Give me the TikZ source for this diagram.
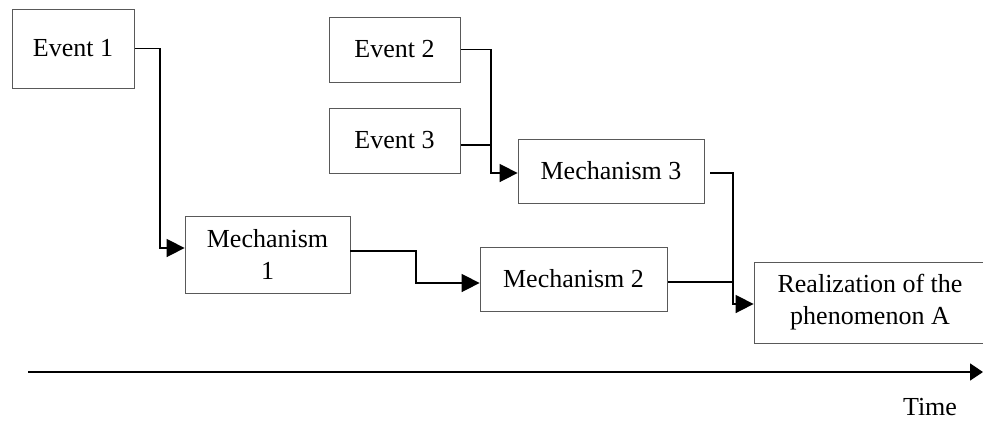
\documentclass[tikz,border=0pt]{standalone}
\usepackage{fontspec}
\setmainfont{Liberation Serif}
\usetikzlibrary{arrows.meta}
\begin{document}
\begin{tikzpicture}[x=1pt,y=-1pt,
  box/.style={draw=black!65,line width=0.8pt,rectangle,inner sep=0pt,align=center,
    font=\fontsize{26}{32}\selectfont},
  conn/.style={line width=1.6pt,black},
  tip/.style={-{Triangle[length=18pt,width=18pt]}}]
\useasboundingbox (0,0) rectangle (983,421);
\node[box,minimum width=122pt,minimum height=79pt] (e1) at (73,48.5) {Event 1};
\node[box,minimum width=131pt,minimum height=65pt] (e2) at (394.5,49.5) {Event 2};
\node[box,minimum width=131pt,minimum height=65pt] (e3) at (394.5,140.5) {Event 3};
\node[box,minimum width=186pt,minimum height=64pt] (m3) at (611,171) {Mechanism 3};
\node[box,minimum width=165pt,minimum height=77pt] (m1) at (267.5,254.5) {Mechanism\\1};
\node[box,minimum width=187pt,minimum height=64pt] (m2) at (573.5,279) {Mechanism 2};
\node[box,minimum width=232pt,minimum height=81pt] (r) at (870,302.5) {Realization of the\\phenomenon A};
\node[font=\fontsize{26}{32}\selectfont,inner sep=0pt] (time) at (930,407) {Time};
\coordinate (ts) at (28,372);
\coordinate (te) at (983,372);
\coordinate (j1) at (491,145);
\coordinate (j2) at (733,282);
% connectors
\draw[conn,tip] ([xshift=1pt]e1.east) -- (160,48.5) -- (160,248) -- (m1.west |- {(0,248)});
\draw[conn,tip] (m1.east |- {(0,251)}) -- (416,251) -- (416,283) -- (m2.west |- {(0,283)});
\draw[conn,tip] ([xshift=1pt]e2.east) -- (491,49.5) -- (491,173) -- (m3.west |- {(0,173)});
\draw[line width=2.6pt] ([xshift=1pt]e3.east |- {(0,145)}) -- (j1);
\draw[conn,tip] ([xshift=6pt]m3.east |- {(0,173)}) -- (733,173) -- (733,304) -- (r.west |- {(0,304)});
\draw[conn] ([xshift=1pt]m2.east |- {(0,282)}) -- (j2);
\draw[conn,-{Triangle[length=13pt,width=17pt]}] (ts) -- (te);
\end{tikzpicture}
\end{document}
